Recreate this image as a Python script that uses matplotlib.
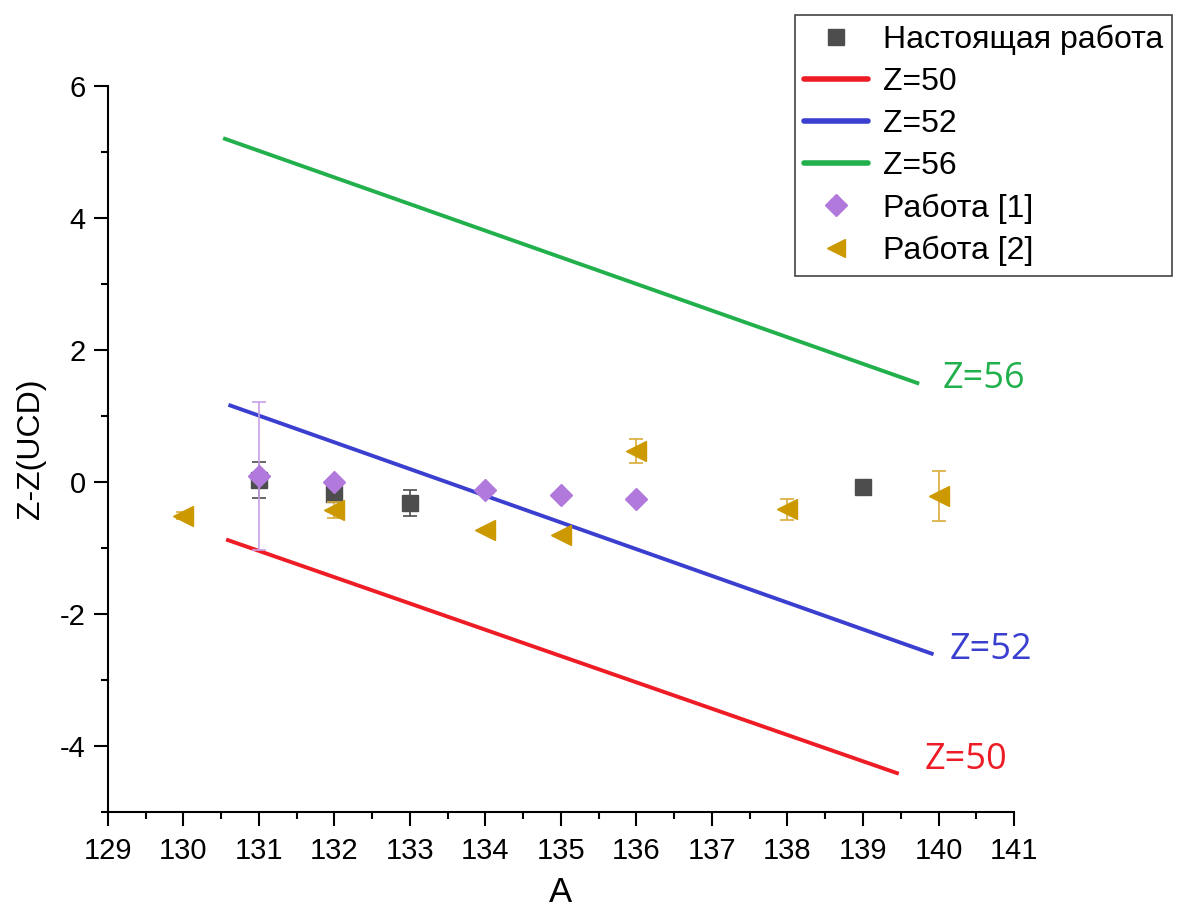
import matplotlib
matplotlib.use('Agg')
import matplotlib.pyplot as plt
from matplotlib.lines import Line2D

# данные настоящей работы
a_present = [131, 132, 133, 139]
z_present = [0.03, -0.18, -0.32, -0.07]
err_present = [0.27, 0.1, 0.2, 0.0]

# работа [1]
a_w1 = [131, 132, 134, 135, 136]
z_w1 = [0.09, 0.0, -0.12, -0.2, -0.26]
err_w1 = [1.12, 0.0, 0.0, 0.0, 0.0]

# работа [2]
a_w2 = [130, 132, 134, 135, 136, 138, 140]
z_w2 = [-0.51, -0.42, -0.72, -0.81, 0.47, -0.41, -0.21]
err_w2 = [0.05, 0.12, 0.0, 0.0, 0.18, 0.16, 0.38]

# линии для изотопов
a_z50 = [130.59, 139.45]
z_z50 = [-0.88, -4.41]
a_z52 = [130.62, 139.91]
z_z52 = [1.16, -2.6]
a_z56 = [130.55, 139.72]
z_z56 = [5.2, 1.5]

c_red = '#ee1c25'
c_blue = '#3a3fcf'
c_green = '#22b04c'
c_gray = '#4d4d4d'
c_purple = '#b279dc'
c_gold = '#cc9900'

plt.rcParams['font.family'] = ['Liberation Sans', 'DejaVu Sans']
plt.rcParams['axes.unicode_minus'] = False

fig = plt.figure(figsize=(11.81, 9.21), dpi=100)
ax = fig.add_axes([0.0914, 0.1183, 0.7672, 0.7883])

ax.errorbar(a_present, z_present, yerr=err_present, fmt='s', color=c_gray,
            ms=11.5, capsize=5, elinewidth=1.2, capthick=1.2, ecolor=c_gray, zorder=3)
ax.plot(a_z50, z_z50, color=c_red, lw=2.8, zorder=2)
ax.plot(a_z52, z_z52, color=c_blue, lw=2.8, zorder=2)
ax.plot(a_z56, z_z56, color=c_green, lw=2.8, zorder=2)
ax.errorbar(a_w1, z_w1, yerr=err_w1, fmt='D', color=c_purple, ms=11,
            capsize=5, elinewidth=1.2, capthick=1.2, ecolor='#c9a0e6', zorder=4)
ax.errorbar(a_w2, z_w2, yerr=err_w2, fmt='<', color=c_gold, ms=14,
            capsize=5, elinewidth=1.2, capthick=1.2, ecolor='#d9ac3a', zorder=5)

ax.set_xlim(129, 141)
ax.set_ylim(-5, 6)
ax.set_xticks(range(129, 142))
ax.set_xticks([x + 0.5 for x in range(129, 141)], minor=True)
ax.set_yticks([-4, -2, 0, 2, 4, 6])
ax.set_yticks([-5, -3, -1, 1, 3, 5], minor=True)

for s in ['top', 'right']:
    ax.spines[s].set_visible(False)
for s in ['left', 'bottom']:
    ax.spines[s].set_linewidth(1.5)

ax.tick_params(which='major', direction='out', length=10, width=1.5)
ax.tick_params(which='minor', direction='out', length=5, width=1.5)
ax.tick_params(axis='y', labelsize=21, pad=6)
ax.tick_params(axis='x', labelsize=21, pad=8)

ax.set_xlabel('A', fontsize=25, labelpad=8)
ax.set_ylabel('Z-Z(UCD)', fontsize=23, labelpad=10)

# подписи линий
lab_font = ['Open Sans', 'Liberation Sans']
ax.text(140.06, 1.56, 'Z=56', color=c_green, fontsize=26, va='center', ha='left', family=lab_font)
ax.text(140.15, -2.54, 'Z=52', color=c_blue, fontsize=26, va='center', ha='left', family=lab_font)
ax.text(139.82, -4.21, 'Z=50', color=c_red, fontsize=26, va='center', ha='left', family=lab_font)

handles = [
    Line2D([], [], ls='none', marker='s', ms=11, color=c_gray),
    Line2D([], [], color=c_red, lw=4, solid_capstyle='round'),
    Line2D([], [], color=c_blue, lw=4, solid_capstyle='round'),
    Line2D([], [], color=c_green, lw=4, solid_capstyle='round'),
    Line2D([], [], ls='none', marker='D', ms=11, color=c_purple),
    Line2D([], [], ls='none', marker='<', ms=13, color=c_gold),
]
labels = ['Настоящая работа', 'Z=50', 'Z=52', 'Z=56', 'Работа [1]', 'Работа [2]']
leg = fig.legend(handles, labels, loc='upper left', bbox_to_anchor=(0.673, 0.984),
                 fontsize=23, frameon=True, fancybox=False, framealpha=1,
                 edgecolor='#444444', handlelength=2.0, handletextpad=0.45,
                 labelspacing=0.38, borderpad=0.3, borderaxespad=0)
leg.get_frame().set_linewidth(1.2)

fig.savefig('out.png', dpi=100)
